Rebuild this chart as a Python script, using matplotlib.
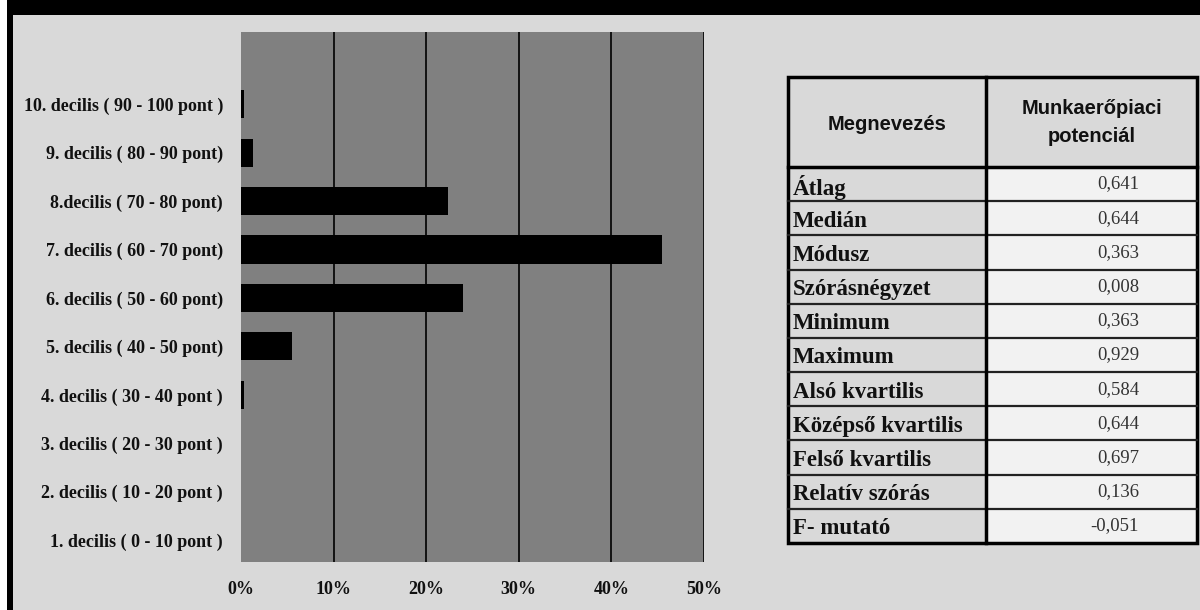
import matplotlib.pyplot as plt
from matplotlib.patches import Rectangle
from matplotlib.ticker import FuncFormatter

# deciles, bottom to top
categories = [
    '1. decilis ( 0 - 10 pont )',
    '2. decilis ( 10 - 20 pont )',
    '3. decilis ( 20 - 30 pont )',
    '4. decilis ( 30 - 40 pont )',
    '5. decilis ( 40 - 50 pont)',
    '6. decilis ( 50 - 60 pont)',
    '7. decilis ( 60 - 70 pont)',
    '8.decilis ( 70 - 80 pont)',
    '9. decilis ( 80 - 90 pont)',
    '10. decilis ( 90 - 100 pont )',
]
shares = [0.0, 0.0, 0.0, 0.3, 5.5, 24.0, 45.5, 22.4, 1.3, 0.3]

x_ticks = [0, 10, 20, 30, 40, 50]

table_header = ['Megnevezés', 'Munkaerőpiaci\npotenciál']
stat_names = ['Átlag', 'Medián', 'Módusz', 'Szórásnégyzet', 'Minimum', 'Maximum',
              'Alsó kvartilis', 'Középső kvartilis', 'Felső kvartilis',
              'Relatív szórás', 'F- mutató']
stat_values = ['0,641', '0,644', '0,363', '0,008', '0,363', '0,929',
               '0,584', '0,644', '0,697', '0,136', '-0,051']

W, H = 1200, 610
bg = '#d9d9d9'
fig = plt.figure(figsize=(12, 6.1), dpi=100, facecolor=bg)


def fig_axes(x0, y0, x1, y1):
    # pixel box (top-left origin) -> figure axes
    return fig.add_axes([x0 / W, 1 - y1 / H, (x1 - x0) / W, (y1 - y0) / H])


# bar chart
ax = fig_axes(241, 32, 704, 562)
ax.set_facecolor('#808080')
ypos = list(range(len(categories)))
ax.barh(ypos, shares, height=0.58, color='black', zorder=3)
ax.set_xlim(0, 50)
ax.set_ylim(-0.45, 10.49)
ax.set_xticks(x_ticks)
ax.xaxis.set_major_formatter(FuncFormatter(lambda v, p: f'{v:.0f}%'))
ax.set_yticks(ypos)
ax.set_yticklabels(categories)
for v in x_ticks[1:]:
    ax.axvline(v, color='black', lw=1.2, zorder=2)
for s in ax.spines.values():
    s.set_visible(False)
ax.tick_params(length=0)
ax.tick_params(axis='y', pad=13)
ax.tick_params(axis='x', pad=14)
for lbl in ax.get_yticklabels() + ax.get_xticklabels():
    lbl.set_fontfamily('Liberation Serif')
    lbl.set_fontweight('bold')
    lbl.set_fontsize(13)
    lbl.set_color('#111111')

# statistics table
tx0, tx1, tdiv = 788, 1197, 986
ty0, thead = 77, 167
row_h = (543 - thead) / len(stat_names)
ty1 = thead + row_h * len(stat_names)
tax = fig_axes(tx0 - 5, ty0 - 5, tx1 + 5, ty1 + 5)
tax.set_xlim(tx0 - 5, tx1 + 5)
tax.set_ylim(ty1 + 5, ty0 - 5)
tax.axis('off')

tax.add_patch(Rectangle((tx0, ty0), tx1 - tx0, thead - ty0, facecolor=bg, edgecolor='none'))
for i, (name, val) in enumerate(zip(stat_names, stat_values)):
    y = thead + i * row_h
    tax.add_patch(Rectangle((tx0, y), tdiv - tx0, row_h, facecolor=bg, edgecolor='none'))
    tax.add_patch(Rectangle((tdiv, y), tx1 - tdiv, row_h, facecolor='#f2f2f2', edgecolor='none'))
    tax.text(tx0 + 5, y + row_h / 2 + 3, name, ha='left', va='center',
             family='Liberation Serif', weight='bold', fontsize=16.5, color='#111111')
    tax.text(1139, y + row_h / 2, val, ha='right', va='center',
             family='Liberation Serif', fontsize=13.5, color='#333333')
    if i > 0:
        tax.plot([tx0, tx1], [y, y], color='#222222', lw=1.6)

tax.text((tx0 + tdiv) / 2, (ty0 + thead) / 2 + 3, table_header[0], ha='center', va='center',
         family='Liberation Sans', weight='bold', fontsize=14.5, color='#111111')
tax.text((tdiv + tx1) / 2, (ty0 + thead) / 2 + 1, table_header[1], ha='center', va='center',
         family='Liberation Sans', weight='bold', fontsize=14.5, color='#111111',
         linespacing=1.6)
tax.plot([tx0, tx1], [thead, thead], color='black', lw=2.5)
tax.plot([tdiv, tdiv], [ty0, ty1], color='black', lw=2.5)
tax.add_patch(Rectangle((tx0, ty0), tx1 - tx0, ty1 - ty0, facecolor='none',
                        edgecolor='black', lw=2.5))

# black frame on top and left edges
frame = fig_axes(0, 0, W, H)
frame.set_xlim(0, W)
frame.set_ylim(H, 0)
frame.axis('off')
frame.set_zorder(-1)
frame.add_patch(Rectangle((0, 0), 7, H, facecolor='white', edgecolor='none'))
frame.add_patch(Rectangle((7, 0), 6, H, facecolor='black', edgecolor='none'))
frame.add_patch(Rectangle((7, 0), W, 15, facecolor='black', edgecolor='none'))

fig.savefig('out.png', dpi=100, facecolor=bg)
